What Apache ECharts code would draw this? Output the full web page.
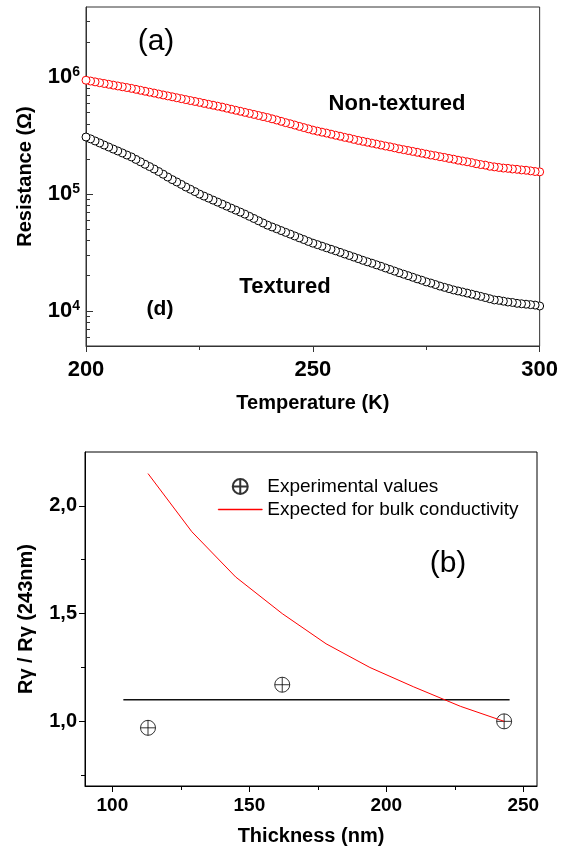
<!DOCTYPE html>
<html>
<head>
<meta charset="utf-8">
<script src="https://cdn.jsdelivr.net/npm/echarts@6/dist/echarts.min.js"></script>
<style>
html,body{margin:0;padding:0;background:#fff;}
#chart{width:561px;height:850px;}
</style>
</head>
<body>
<div id="chart"></div>
<script>
// ---------- Panel (a): Resistance vs temperature ----------
var temperatures = [];
for (var t = 200; t <= 300; t++) temperatures.push(t);

var nonTextured = [
944e3,929e3,914e3,899e3,885e3,871e3,857e3,843e3,830e3,817e3,
804e3,789e3,774e3,760e3,746e3,733e3,719e3,706e3,693e3,681e3,
668e3,656e3,644e3,632e3,621e3,610e3,598e3,587e3,577e3,566e3,
556e3,544e3,533e3,522e3,512e3,501e3,491e3,481e3,471e3,461e3,
452e3,441e3,431e3,420e3,409e3,400e3,390e3,380e3,371e3,362e3,
353e3,346e3,339e3,333e3,326e3,319e3,313e3,306e3,301e3,294e3,
288e3,283e3,278e3,273e3,268e3,263e3,258e3,254e3,249e3,244e3,
240e3,236e3,232e3,228e3,224e3,220e3,216e3,213e3,209e3,206e3,
202e3,199e3,195e3,192e3,189e3,186e3,182e3,179e3,177e3,173e3,
171e3,169e3,167e3,166e3,164e3,163e3,161e3,160e3,158e3,156e3,
155e3
];

var textured = [
308e3,297e3,285e3,274e3,263e3,253e3,243e3,234e3,225e3,216e3,
208e3,198e3,189e3,180e3,172e3,164e3,156e3,148e3,140e3,133e3,
127e3,121e3,115e3,110e3,105e3,100e3,96.1e3,92.4e3,88.8e3,85.4e3,
82.1e3,78.9e3,75.8e3,72.9e3,70.1e3,67.4e3,64.5e3,61.8e3,59.1e3,56.6e3,
54.2e3,52.3e3,50.5e3,48.7e3,47.0e3,45.4e3,43.8e3,42.2e3,40.8e3,39.3e3,
38.0e3,36.9e3,35.8e3,34.7e3,33.7e3,32.7e3,31.7e3,30.7e3,29.8e3,28.9e3,
28.0e3,27.1e3,26.3e3,25.6e3,24.8e3,24.1e3,23.3e3,22.6e3,21.9e3,21.2e3,
20.6e3,20.0e3,19.4e3,18.8e3,18.3e3,17.7e3,17.3e3,16.8e3,16.3e3,15.9e3,
15.5e3,15.1e3,14.8e3,14.5e3,14.2e3,13.9e3,13.6e3,13.3e3,13.0e3,12.7e3,
12.4e3,12.3e3,12.1e3,11.9e3,11.8e3,11.6e3,11.5e3,11.4e3,11.3e3,11.2e3,
11.0e3
];

var tempTicks = [200, 250, 300];
var tempMinorTicks = [225, 275];
var resTicks = [1e4, 1e5, 1e6];
var resMinorTicks = [6e3,7e3,8e3,9e3,2e4,3e4,4e4,5e4,6e4,7e4,8e4,9e4,
                     2e5,3e5,4e5,5e5,6e5,7e5,8e5,9e5,2e6,3e6];

// ---------- Panel (b): ratio vs thickness ----------
var expThickness = [113, 162, 243];
var expRatio = [0.97, 1.17, 1.0];
var bulkThickness = [113, 129, 145, 162, 178, 194, 210, 227, 243];
var bulkRatio = [2.15, 1.88, 1.67, 1.50, 1.36, 1.25, 1.16, 1.07, 1.0];
var levelThickness = [104, 245];
var levelRatio = [1.10, 1.10];

var thickTicks = [100, 150, 200, 250];
var thickMinorTicks = [125, 175, 225];
var ratioTicks = [1.0, 1.5, 2.0];
var ratioMinorTicks = [0.75, 1.25, 1.75];

// ---------- build ----------
function zip(xs, ys) { return xs.map(function (x, i) { return [x, ys[i]]; }); }
function zipReversed(xs, ys) { return zip(xs, ys).reverse(); }

var FONT = "'Liberation Sans', Arial, Helvetica, sans-serif";
var plusCircle = 'path://M10,0A10,10,0,1,1,-10,0A10,10,0,1,1,10,0ZM-10,0L10,0M0,-10L0,10';
var lineIcon = 'path://M0,0L44,0L44,1L0,1Z';
var topColor = '#333';
var RED = '#ff0000';

var chart = echarts.init(document.getElementById('chart'), null, {renderer: 'canvas'});
var option = {
  backgroundColor: '#fff',
  animation: false,
  textStyle: {fontFamily: FONT},
  grid: [
    {left: 86, top: 7, width: 455, height: 339, show: true, borderColor: topColor, borderWidth: 1, backgroundColor: 'transparent', containLabel: false},
    {left: 85, top: 452, width: 452, height: 334, show: true, borderColor: '#000', borderWidth: 1, backgroundColor: 'transparent', containLabel: false}
  ],
  xAxis: [
    {
      gridIndex: 0, type: 'value', min: 200, max: 300, position: 'bottom',
      name: 'Temperature (K)', nameLocation: 'middle', nameGap: 47,
      nameTextStyle: {fontFamily: FONT, fontSize: 20, fontWeight: 'bold', color: '#000'},
      axisLine: {show: true, lineStyle: {color: topColor, width: 1}},
      axisTick: {show: true, inside: false, length: 6, customValues: tempTicks, lineStyle: {color: topColor}},
      axisLabel: {show: true, customValues: tempTicks, margin: 13, fontFamily: FONT, fontSize: 22, fontWeight: 'bold', color: '#000'},
      splitLine: {show: false}
    },
    {
      gridIndex: 0, type: 'value', min: 200, max: 300, position: 'bottom',
      axisLine: {show: false},
      axisTick: {show: true, inside: false, length: 4, customValues: tempMinorTicks, lineStyle: {color: topColor}},
      axisLabel: {show: false},
      splitLine: {show: false}
    },
    {
      gridIndex: 1, type: 'value', min: 90, max: 255, position: 'bottom',
      name: 'Thickness (nm)', nameLocation: 'middle', nameGap: 40,
      nameTextStyle: {fontFamily: FONT, fontSize: 20, fontWeight: 'bold', color: '#000'},
      axisLine: {show: true, lineStyle: {color: '#000', width: 1}},
      axisTick: {show: true, inside: false, length: 6, customValues: thickTicks, lineStyle: {color: '#000'}},
      axisLabel: {show: true, customValues: thickTicks, margin: 10, fontFamily: FONT, fontSize: 19, fontWeight: 'bold', color: '#000'},
      splitLine: {show: false}
    },
    {
      gridIndex: 1, type: 'value', min: 90, max: 255, position: 'bottom',
      axisLine: {show: false},
      axisTick: {show: true, inside: false, length: 4, customValues: thickMinorTicks, lineStyle: {color: '#000'}},
      axisLabel: {show: false},
      splitLine: {show: false}
    }
  ],
  yAxis: [
    {
      gridIndex: 0, type: 'log', logBase: 10, min: 5000, max: 4e6, position: 'left',
      name: 'Resistance (\u03A9)', nameLocation: 'middle', nameGap: 51,
      nameTextStyle: {fontFamily: FONT, fontSize: 20, fontWeight: 'bold', color: '#000'},
      axisLine: {show: true, lineStyle: {color: topColor, width: 1}},
      axisTick: {show: true, inside: true, length: 7, customValues: resTicks, lineStyle: {color: topColor}},
      axisLabel: {
        show: true, customValues: resTicks, margin: 6, color: '#000',
        formatter: function (v) { return '{b|10}{s|' + Math.round(Math.log10(v)) + '}'; },
        rich: {
          b: {fontFamily: FONT, fontSize: 22, fontWeight: 'bold', color: '#000', lineHeight: 24},
          s: {fontFamily: FONT, fontSize: 14, fontWeight: 'bold', color: '#000', verticalAlign: 'top', lineHeight: 24, padding: [0, 0, 10, 0]}
        }
      },
      splitLine: {show: false}
    },
    {
      gridIndex: 0, type: 'log', logBase: 10, min: 5000, max: 4e6, position: 'left',
      axisLine: {show: false},
      axisTick: {show: true, inside: true, length: 4, customValues: resMinorTicks, lineStyle: {color: topColor}},
      axisLabel: {show: false},
      splitLine: {show: false}
    },
    {
      gridIndex: 1, type: 'value', min: 0.7, max: 2.25, position: 'left',
      name: 'R\u03B3 / R\u03B3 (243nm)', nameLocation: 'middle', nameGap: 49,
      nameTextStyle: {fontFamily: FONT, fontSize: 20, fontWeight: 'bold', color: '#000'},
      axisLine: {show: true, lineStyle: {color: '#000', width: 1}},
      axisTick: {show: true, inside: false, length: 6, customValues: ratioTicks, lineStyle: {color: '#000'}},
      axisLabel: {
        show: true, customValues: ratioTicks, margin: 8, fontFamily: FONT, fontSize: 20, fontWeight: 'bold', color: '#000',
        formatter: function (v) { return v.toFixed(1).replace('.', ','); }
      },
      splitLine: {show: false}
    },
    {
      gridIndex: 1, type: 'value', min: 0.7, max: 2.25, position: 'left',
      axisLine: {show: false},
      axisTick: {show: true, inside: false, length: 4, customValues: ratioMinorTicks, lineStyle: {color: '#000'}},
      axisLabel: {show: false},
      splitLine: {show: false}
    }
  ],
  legend: {
    orient: 'vertical', left: 218, top: 477, padding: 0, itemWidth: 44, itemHeight: 15, itemGap: 4,
    textStyle: {fontFamily: FONT, fontSize: 19, color: '#000'},
    data: [
      {name: 'Experimental values'},
      {name: 'Expected for bulk conductivity', icon: lineIcon,
       itemStyle: {color: RED, borderColor: RED, borderWidth: 0.5},
       lineStyle: {color: RED, width: 1}}
    ]
  },
  series: [
    {
      name: 'Non-textured', type: 'scatter', xAxisIndex: 0, yAxisIndex: 0,
      data: zipReversed(temperatures, nonTextured),
      symbol: 'circle', symbolSize: 8,
      itemStyle: {color: '#fff', borderColor: RED, borderWidth: 1, opacity: 1}
    },
    {
      name: 'Textured', type: 'scatter', xAxisIndex: 0, yAxisIndex: 0,
      data: zipReversed(temperatures, textured),
      symbol: 'circle', symbolSize: 8,
      itemStyle: {color: '#fff', borderColor: '#000', borderWidth: 1, opacity: 1}
    },
    {
      name: 'Level', type: 'line', xAxisIndex: 2, yAxisIndex: 2,
      data: zip(levelThickness, levelRatio),
      symbol: 'none', lineStyle: {color: '#111', width: 1.6}
    },
    {
      name: 'Expected for bulk conductivity', type: 'line', xAxisIndex: 2, yAxisIndex: 2,
      data: zip(bulkThickness, bulkRatio), color: RED,
      symbol: 'none', lineStyle: {color: RED, width: 1}, itemStyle: {color: RED}
    },
    {
      name: 'Experimental values', type: 'scatter', xAxisIndex: 2, yAxisIndex: 2,
      data: zip(expThickness, expRatio),
      symbol: plusCircle, symbolSize: 15,
      itemStyle: {color: 'rgba(0,0,0,0)', borderColor: '#000', borderWidth: 1}
    }
  ],
  graphic: [
    {type: 'text', x: 156, y: 42, style: {text: '(a)', font: 'normal 30px ' + FONT, fill: '#000', align: 'center', verticalAlign: 'middle'}},
    {type: 'text', x: 397, y: 104, style: {text: 'Non-textured', font: 'bold 22px ' + FONT, fill: '#000', align: 'center', verticalAlign: 'middle'}},
    {type: 'text', x: 285, y: 287, style: {text: 'Textured', font: 'bold 22px ' + FONT, fill: '#000', align: 'center', verticalAlign: 'middle'}},
    {type: 'text', x: 160, y: 309, style: {text: '(d)', font: 'bold 21px ' + FONT, fill: '#000', align: 'center', verticalAlign: 'middle'}},
    {type: 'text', x: 448, y: 564, style: {text: '(b)', font: 'normal 30px ' + FONT, fill: '#000', align: 'center', verticalAlign: 'middle'}}
  ]
};
chart.setOption(option);
</script>
</body>
</html>
